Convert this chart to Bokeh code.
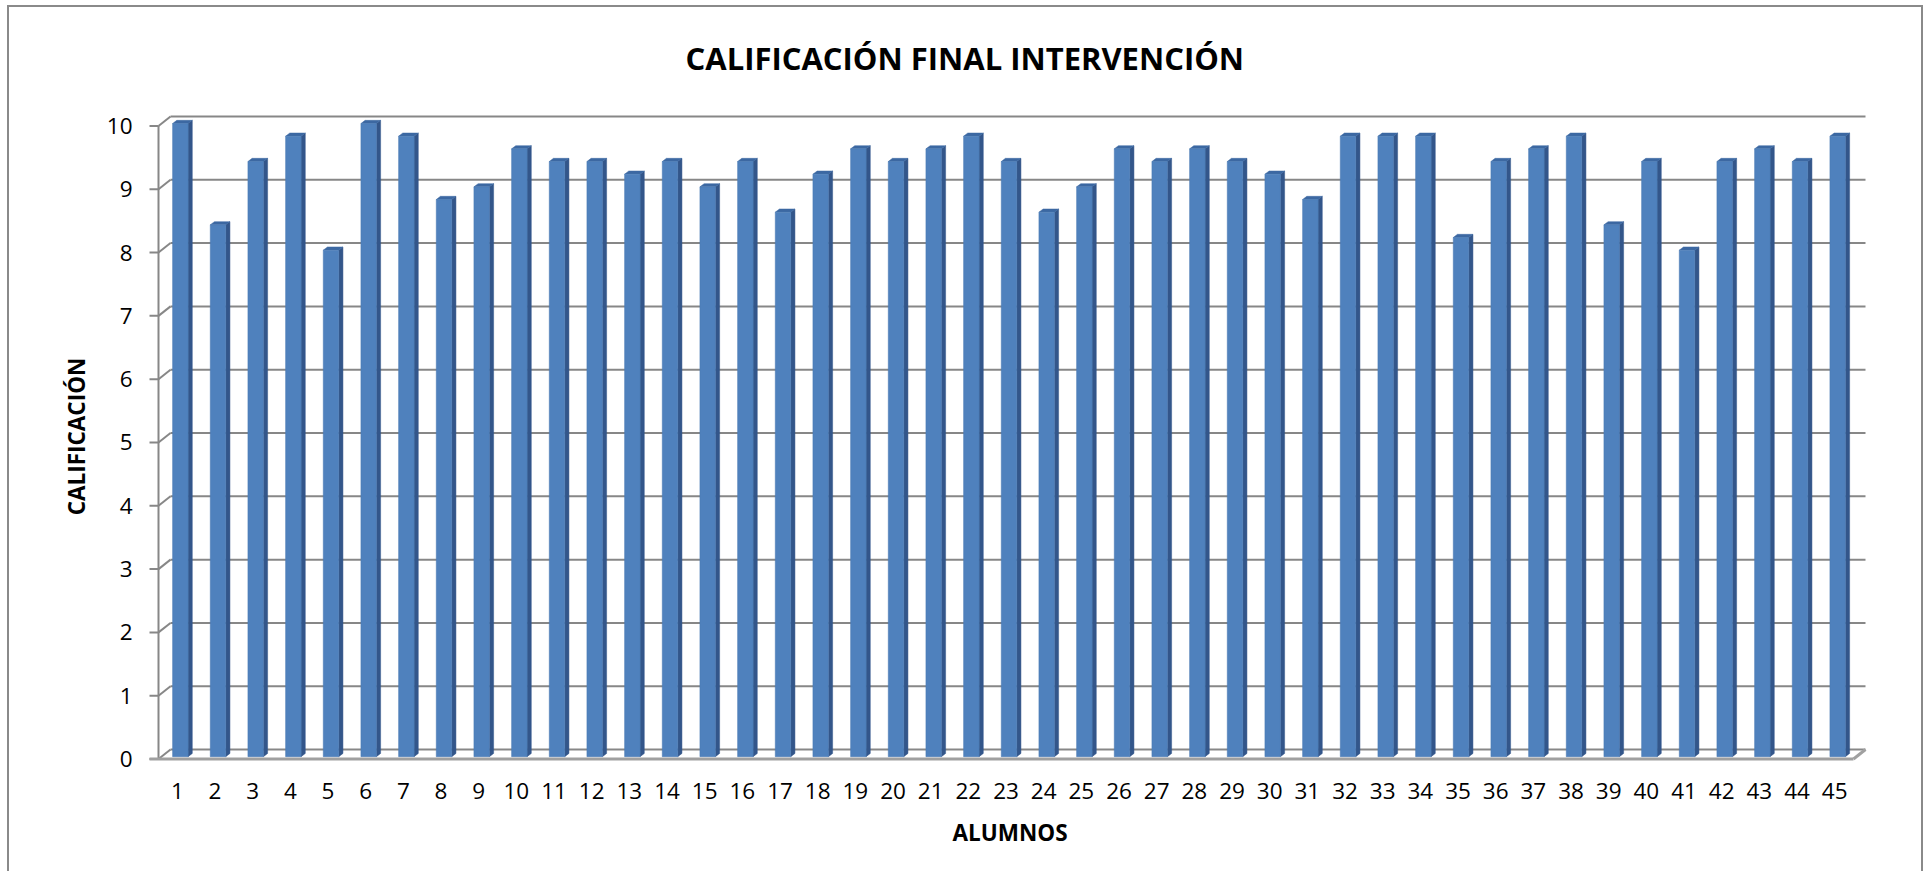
from bokeh.plotting import figure
from bokeh.models import Range1d, FixedTicker, ColumnDataSource
from bokeh.embed import file_html
from bokeh.resources import INLINE

# ---------------- data ----------------
alumnos = list(range(1, 46))
calificacion = [10.0, 8.4, 9.4, 9.8, 8.0, 10.0, 9.8, 8.8, 9.0, 9.6,
                9.4, 9.4, 9.2, 9.4, 9.0, 9.4, 8.6, 9.2, 9.6, 9.4,
                9.6, 9.8, 9.4, 8.6, 9.0, 9.6, 9.4, 9.6, 9.4, 9.2,
                8.8, 9.8, 9.8, 9.8, 8.2, 9.4, 9.6, 9.8, 8.4, 9.4,
                8.0, 9.4, 9.6, 9.4, 9.8]
y_ticks = list(range(0, 11))
title_text = "CALIFICACIÓN FINAL INTERVENCIÓN"
x_title = "ALUMNOS"
y_title = "CALIFICACIÓN"

# ---------------- layout constants (pixels) ----------------
W, H = 1916, 866
MARGIN_L, MARGIN_T, BORDER = 7, 5, 2
ORX, ORY = MARGIN_L + BORDER, MARGIN_T + BORDER   # canvas origin on page
FRONT_L, FRONT_R = 158.0, 1853.0   # x of category 0.5 and 45.5 (page px)
Y0, Y10 = 758.5, 123.5             # y of value 0 and 10 (page px)
SX = (FRONT_R - FRONT_L) / len(alumnos)
SY = (Y0 - Y10) / 10.0
FL, FR, FT, FB = 144, 1875, 104, 766   # frame edges on page
TITLE_LEFT = 685                        # page x of title's left edge

def xd(px):
    return 0.5 + (px - FRONT_L) / SX

def yd(py):
    return (Y0 - py) / SY

# 3D offsets in data units
DXW, DYW = 12 / SX, 9.5 / SY        # back wall
DXB, DYB = 3 / SX, 2.4 / SY         # bar front face from front plane
DDX, DDY = 4.2 / SX, 3.2 / SY       # bar depth
BW = 15.5 / SX                      # bar width
STUB = 9 / SX

GRID = "#878787"
FRONT = "#4F81BD"
SIDE = "#33568A"
TOP = "#3C68A2"
FONT = "Open Sans"

p = figure(width=W, height=H,
           x_range=Range1d(xd(FL), xd(FR)), y_range=Range1d(yd(FB), yd(FT)),
           output_backend="svg", toolbar_location=None,
           min_border_left=FL - ORX, min_border_right=ORX + W - FR,
           min_border_top=FT - ORY, min_border_bottom=ORY + H - FB,
           title=title_text)
bc = f"{BORDER}px solid #8a8a8a"
p.styles = {"margin-left": f"{MARGIN_L}px", "margin-top": f"{MARGIN_T}px",
            "border-left": bc, "border-top": bc, "border-right": bc}
p.outline_line_color = None
p.xgrid.visible = False
p.ygrid.visible = False
p.background_fill_color = "white"
p.border_fill_color = "white"

# title
p.title.align = "left"
p.title.text_font = FONT
p.title.text_font_style = "bold"
p.title.text_font_size = "31px"
p.title.text_color = "black"
p.title.standoff = 55
p.title.offset = TITLE_LEFT - FL

# axes
for ax in (p.xaxis, p.yaxis):
    ax.axis_line_color = None
    ax.major_tick_line_color = None
    ax.minor_tick_line_color = None
    ax.major_tick_out = 0
    ax.major_tick_in = 0
    ax.minor_tick_out = 0
    ax.minor_tick_in = 0
    ax.major_label_text_font = FONT
    ax.major_label_text_font_size = "22.5px"
    ax.major_label_text_color = "black"
    ax.axis_label_text_font = FONT
    ax.axis_label_text_font_style = "bold"
    ax.axis_label_text_font_size = "22.5px"
    ax.axis_label_text_color = "black"

p.xaxis.ticker = FixedTicker(ticks=alumnos)
p.xaxis.major_label_standoff = 16
p.xaxis.axis_label = x_title
p.xaxis.axis_label_standoff = 15
p.yaxis.ticker = FixedTicker(ticks=y_ticks)
p.yaxis.major_label_standoff = 12
p.yaxis.axis_label = y_title
p.yaxis.axis_label_standoff = 12

x0, x1 = 0.5, len(alumnos) + 0.5

# back wall grid lines
p.segment(x0=[x0 + DXW] * len(y_ticks), y0=[v + DYW for v in y_ticks],
          x1=[x1 + DXW] * len(y_ticks), y1=[v + DYW for v in y_ticks],
          line_color=GRID, line_width=2)
# side wall diagonals
p.segment(x0=[x0] * len(y_ticks), y0=y_ticks,
          x1=[x0 + DXW] * len(y_ticks), y1=[v + DYW for v in y_ticks],
          line_color=GRID, line_width=2)
# tick stubs
p.segment(x0=[x0 - STUB] * len(y_ticks), y0=y_ticks,
          x1=[x0] * len(y_ticks), y1=y_ticks,
          line_color=GRID, line_width=2)
# front vertical axis
p.segment(x0=[x0], y0=[y_ticks[0]], x1=[x0], y1=[y_ticks[-1]],
          line_color=GRID, line_width=2)
# floor front edge & right diagonal
p.segment(x0=[x0 - STUB, x1], y0=[0, 0], x1=[x1, x1 + DXW], y1=[0, DYW],
          line_color="#a0a0a0", line_width=3)

# bars
lefts = [a - BW / 2 + DXB for a in alumnos]
rights = [a + BW / 2 + DXB for a in alumnos]
tops = [v + DYB for v in calificacion]
src = ColumnDataSource(dict(left=lefts, right=rights, top=tops,
                            bottom=[DYB] * len(alumnos)))

side_xs = [[r, r + DDX, r + DDX, r] for r in rights]
side_ys = [[DYB, DYB + DDY, t + DDY, t] for t in tops]
top_xs = [[l, l + DDX, r + DDX, r] for l, r in zip(lefts, rights)]
top_ys = [[t, t + DDY, t + DDY, t] for t in tops]

p.patches(xs=side_xs, ys=side_ys, fill_color=SIDE, line_color=SIDE, line_width=0.5)
p.patches(xs=top_xs, ys=top_ys, fill_color=TOP, line_color=TOP, line_width=0.5)
p.quad(left="left", right="right", top="top", bottom="bottom", source=src,
       fill_color=FRONT, line_color="#4A7AB5", line_width=0.5)

open("out.html", "w").write(file_html(p, INLINE))
